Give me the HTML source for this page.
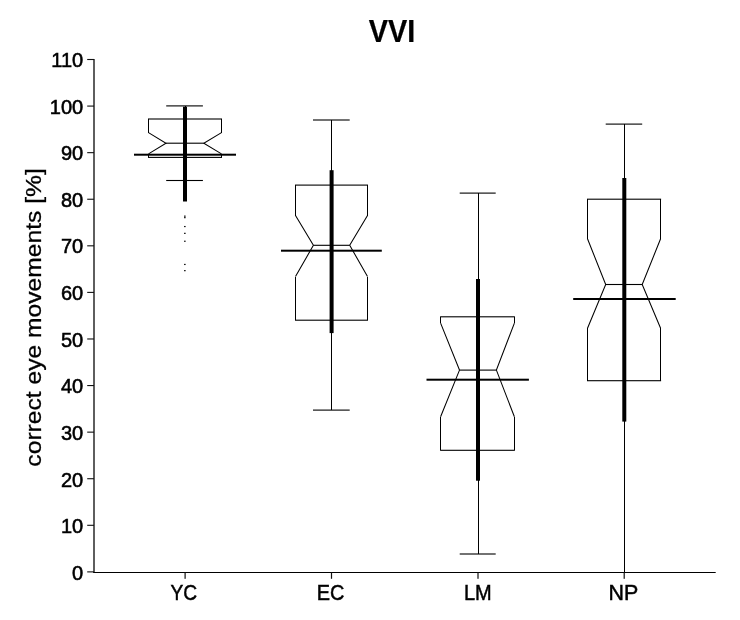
<!DOCTYPE html>
<html><head><meta charset="utf-8"><title>VVI</title>
<style>html,body{margin:0;padding:0;background:#fff;}svg{display:block}</style></head>
<body><svg width="740" height="620" viewBox="0 0 740 620">
<rect width="740" height="620" fill="#fff"/>
<g stroke="#000" stroke-width="1" fill="none" shape-rendering="crispEdges">
<line x1="185.1" y1="105.9" x2="185.1" y2="180.5"/>
<line x1="148.5" y1="119.0" x2="148.5" y2="132.6"/>
<line x1="148.5" y1="153.9" x2="148.5" y2="157.4"/>
<line x1="221.5" y1="119.0" x2="221.5" y2="132.6"/>
<line x1="221.5" y1="153.9" x2="221.5" y2="157.4"/>
<line x1="331.5" y1="120.0" x2="331.5" y2="410.1"/>
<line x1="295.5" y1="185.1" x2="295.5" y2="215.5"/>
<line x1="295.5" y1="276.5" x2="295.5" y2="320.2"/>
<line x1="367.5" y1="185.1" x2="367.5" y2="215.5"/>
<line x1="367.5" y1="276.5" x2="367.5" y2="320.2"/>
<line x1="478.0" y1="193.1" x2="478.0" y2="554.0"/>
<line x1="440.6" y1="316.8" x2="440.6" y2="323.1"/>
<line x1="440.6" y1="416.8" x2="440.6" y2="450.3"/>
<line x1="514.4" y1="316.8" x2="514.4" y2="323.1"/>
<line x1="514.4" y1="416.8" x2="514.4" y2="450.3"/>
<line x1="624.2" y1="124.1" x2="624.2" y2="572.5"/>
<line x1="587.5" y1="199.2" x2="587.5" y2="238.8"/>
<line x1="587.5" y1="328.3" x2="587.5" y2="380.7"/>
<line x1="660.6" y1="199.2" x2="660.6" y2="238.8"/>
<line x1="660.6" y1="328.3" x2="660.6" y2="380.7"/>
</g>
<g stroke="#000" stroke-width="1.05" fill="none">
<polyline points="148.5,132.6 166.0,143.2 148.5,153.9"/>
<polyline points="221.5,132.6 203.8,143.2 221.5,153.9"/>
<polyline points="295.5,215.5 313.4,245.3 295.5,276.5"/>
<polyline points="367.5,215.5 349.7,245.3 367.5,276.5"/>
<polyline points="440.6,323.1 459.5,370.1 440.6,416.8"/>
<polyline points="514.4,323.1 496.4,370.1 514.4,416.8"/>
<polyline points="587.5,238.8 605.7,284.5 587.5,328.3"/>
<polyline points="660.6,238.8 642.2,284.5 660.6,328.3"/>
</g>
<g fill="#000">
<rect x="166.2" y="105.35" width="36.7" height="1.1"/>
<rect x="166.2" y="179.95" width="36.7" height="1.1"/>
<rect x="148.0" y="118.45" width="74.0" height="1.1"/>
<rect x="148.0" y="156.85" width="74.0" height="1.1"/>
<rect x="166.0" y="142.65" width="37.8" height="1.1"/>
<rect x="313.0" y="119.45" width="36.7" height="1.1"/>
<rect x="313.0" y="409.55" width="36.7" height="1.1"/>
<rect x="295.0" y="184.55" width="73.0" height="1.1"/>
<rect x="295.0" y="319.65" width="73.0" height="1.1"/>
<rect x="313.4" y="244.75" width="36.3" height="1.1"/>
<rect x="459.7" y="192.55" width="36.0" height="1.1"/>
<rect x="459.7" y="553.45" width="36.0" height="1.1"/>
<rect x="440.1" y="316.25" width="74.8" height="1.1"/>
<rect x="440.1" y="449.75" width="74.8" height="1.1"/>
<rect x="459.5" y="369.55" width="36.9" height="1.1"/>
<rect x="605.7" y="123.55" width="36.5" height="1.1"/>
<rect x="587.0" y="198.65" width="74.1" height="1.1"/>
<rect x="587.0" y="380.15" width="74.1" height="1.1"/>
<rect x="605.7" y="283.95" width="36.5" height="1.1"/>
<rect x="183.0" y="106.7" width="4.0" height="94.8"/>
<rect x="134.0" y="153.7" width="102.0" height="2"/>
<rect x="329.6" y="170.2" width="4.0" height="162.9"/>
<rect x="281.0" y="249.7" width="100.8" height="2"/>
<rect x="476.0" y="279.0" width="4.0" height="201.7"/>
<rect x="426.5" y="378.7" width="102.4" height="2"/>
<rect x="622.3" y="178.0" width="4.0" height="243.6"/>
<rect x="573.2" y="298.0" width="102.5" height="2"/>
<rect x="184.1" y="215.55" width="1.5" height="1.2"/>
<rect x="184.1" y="217.05" width="1.5" height="1.2"/>
<rect x="184.1" y="225.95" width="1.5" height="1.2"/>
<rect x="184.1" y="232.75" width="1.5" height="1.2"/>
<rect x="184.1" y="240.65" width="1.5" height="1.2"/>
<rect x="184.1" y="263.85" width="1.5" height="1.2"/>
<rect x="184.1" y="270.05" width="1.5" height="1.2"/>
</g>
<rect x="93.25" y="59.0" width="1.5" height="514.0" fill="#2a2a2a"/>
<rect x="93.25" y="572.0" width="622.45" height="1" fill="#000"/>
<g fill="#111">
<rect x="87.2" y="571.33" width="6.8" height="1.1"/>
<rect x="87.2" y="524.75" width="6.8" height="1.1"/>
<rect x="87.2" y="478.17" width="6.8" height="1.1"/>
<rect x="87.2" y="431.59" width="6.8" height="1.1"/>
<rect x="87.2" y="385.01" width="6.8" height="1.1"/>
<rect x="87.2" y="338.43" width="6.8" height="1.1"/>
<rect x="87.2" y="291.85" width="6.8" height="1.1"/>
<rect x="87.2" y="245.27" width="6.8" height="1.1"/>
<rect x="87.2" y="198.69" width="6.8" height="1.1"/>
<rect x="87.2" y="152.11" width="6.8" height="1.1"/>
<rect x="87.2" y="105.53" width="6.8" height="1.1"/>
<rect x="87.2" y="58.95" width="6.8" height="1.1"/>
<rect x="184.5" y="572.5" width="1.2" height="6.3"/>
<rect x="330.9" y="572.5" width="1.2" height="6.3"/>
<rect x="477.4" y="572.5" width="1.2" height="6.3"/>
<rect x="623.6" y="572.5" width="1.2" height="6.3"/>
</g>
<g font-family="'Liberation Sans', sans-serif" fill="#000" stroke="#000" stroke-width="0.55">
<text transform="translate(83.2,579.90) scale(1,1.03)" font-size="20" text-anchor="end">0</text>
<text transform="translate(83.2,533.26) scale(1,1.03)" font-size="20" text-anchor="end">10</text>
<text transform="translate(83.2,486.63) scale(1,1.03)" font-size="20" text-anchor="end">20</text>
<text transform="translate(83.2,439.99) scale(1,1.03)" font-size="20" text-anchor="end">30</text>
<text transform="translate(83.2,393.35) scale(1,1.03)" font-size="20" text-anchor="end">40</text>
<text transform="translate(83.2,346.72) scale(1,1.03)" font-size="20" text-anchor="end">50</text>
<text transform="translate(83.2,300.08) scale(1,1.03)" font-size="20" text-anchor="end">60</text>
<text transform="translate(83.2,253.45) scale(1,1.03)" font-size="20" text-anchor="end">70</text>
<text transform="translate(83.2,206.81) scale(1,1.03)" font-size="20" text-anchor="end">80</text>
<text transform="translate(83.2,160.17) scale(1,1.03)" font-size="20" text-anchor="end">90</text>
<text transform="translate(83.2,113.54) scale(1,1.03)" font-size="20" text-anchor="end">100</text>
<text transform="translate(83.2,66.90) scale(1,1.03)" font-size="20" text-anchor="end">110</text>
<text transform="translate(183.9,599.9) scale(0.96,1.06)" font-size="20" text-anchor="middle" stroke-width="0.45">YC</text>
<text transform="translate(330.5,599.9) scale(0.995,1.06)" font-size="20" text-anchor="middle" stroke-width="0.45">EC</text>
<text transform="translate(477.75,599.9) scale(1.0,1.06)" font-size="20" text-anchor="middle" stroke-width="0.45">LM</text>
<text transform="translate(623.4,599.9) scale(1.07,1.06)" font-size="20" text-anchor="middle" stroke-width="0.45">NP</text>
<text transform="translate(392.1,42.2) scale(0.985,1.045)" font-size="29.3" font-weight="bold" text-anchor="middle" stroke-width="0.2">VVI</text>
<text transform="translate(40.9,317.4) rotate(-90) scale(1,0.92)" font-size="24.65" text-anchor="middle" stroke-width="0.3">correct eye movements [%]</text>
</g>
</svg></body></html>
